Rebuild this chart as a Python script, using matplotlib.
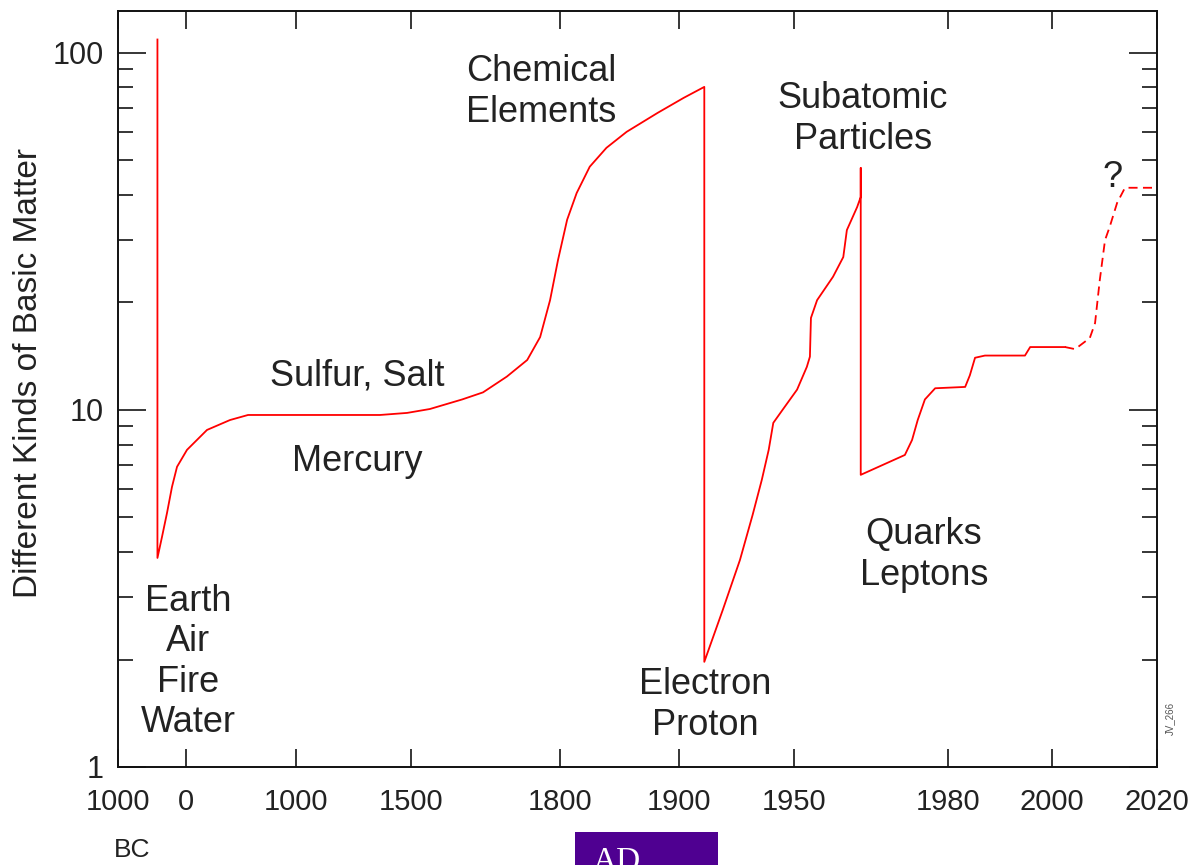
import numpy as np
import matplotlib
matplotlib.use("Agg")
import matplotlib.pyplot as plt
from matplotlib.patches import Rectangle
from matplotlib.ticker import LogLocator, NullFormatter, FixedLocator

plt.rcParams['font.family'] = ['Liberation Sans', 'DejaVu Sans']

# --- data (year, number of kinds of basic matter) ---
tick_years = [-1000, 0, 1000, 1500, 1800, 1900, 1950, 1980, 2000, 2020]
tick_labels = ["1000", "0", "1000", "1500", "1800", "1900", "1950", "1980", "2000", "2020"]

known_years = [-420, -420, -353, -279, -206, -132, 9, 191, 400, 564, 1365, 1483,
               1538, 1603, 1645, 1693, 1734, 1760, 1780, 1796, 1806, 1814, 1825,
               1839, 1856, 1882, 1902, 1911, 1911, 1919, 1926.5, 1932, 1936, 1939,
               1941, 1945, 1950.6, 1952.5, 1953.1, 1953.3, 1954.5, 1957.6, 1959.6,
               1960.3, 1962.3, 1963, 1963, 1963, 1971.6, 1973, 1974.1, 1975.5,
               1977.5, 1983.3, 1984.2, 1985.2, 1987.1, 1994.8, 1995.8, 1996.7, 2002.5]
known_kinds = [109, 3.85, 4.41, 5.15, 6.09, 6.93, 7.73, 8.79, 9.37, 9.68, 9.68, 9.81,
               10.06, 10.7, 11.2, 12.4, 13.8, 16.0, 20.3, 26.3, 34.1, 40.5, 48.0,
               54.2, 60.1, 67.9, 74.8, 80.3, 1.97, 2.75, 3.80, 5.08, 6.37, 7.73,
               9.20, 10.0, 11.4, 13.2, 14.1, 18.1, 20.3, 23.6, 26.8,
               31.9, 37.0, 39.5, 47.6, 6.58, 7.48, 8.24, 9.37, 10.7,
               11.5, 11.6, 12.5, 14.0, 14.2, 14.2, 15.0, 15.0, 15.0]

future_years = [2002.5, 2004.4, 2007.2, 2008.2, 2009.1, 2010.1, 2011.0, 2012.4, 2013.9, 2020]
future_kinds = [15.0, 14.8, 15.9, 17.5, 23.1, 29.9, 32.6, 38.0, 41.9, 41.9]

# piecewise time axis: where each tick year sits along the axis
axis_pos = np.array([118, 186, 296, 411, 560, 679, 794, 948, 1052, 1157], dtype=float)
axis_years = np.array(tick_years, dtype=float)

def fwd(x):
    return np.interp(x, axis_years, axis_pos)

def inv(p):
    return np.interp(p, axis_pos, axis_years)

fig = plt.figure(figsize=(11.9, 8.65), dpi=100)
ax = fig.add_axes([118/1190, 1 - 767/865, (1157 - 118)/1190, (767 - 11)/865])
ax.set_xscale('function', functions=(fwd, inv))
ax.set_yscale('log')

red = '#ff0000'
ax.plot(known_years, known_kinds, color=red, lw=1.3)
ax.plot(future_years, future_kinds, color=red, lw=1.3, dashes=(5, 3))

ax.set_xlim(-1000, 2020)
ax.set_ylim(1, 131)

ax.xaxis.set_major_locator(FixedLocator(tick_years))
ax.set_xticklabels(tick_labels)
ax.xaxis.set_minor_locator(FixedLocator([]))
ax.yaxis.set_major_locator(FixedLocator([1, 10, 100]))
ax.set_yticklabels(["1", "10", "100"])
ax.yaxis.set_minor_locator(LogLocator(base=10, subs=np.arange(2, 10)))
ax.yaxis.set_minor_formatter(NullFormatter())

txt = '#222222'
ax.tick_params(axis='x', which='major', direction='in', top=True, length=13,
               width=1.1, pad=15, labelsize=21, labelcolor=txt)
ax.tick_params(axis='y', which='major', direction='in', right=True, length=20,
               width=1.1, pad=10, labelsize=22, labelcolor=txt)
ax.tick_params(axis='y', which='minor', direction='in', right=True, length=11,
               width=1.1)
for s in ax.spines.values():
    s.set_linewidth(1.4)
    s.set_color('#111111')

ax.set_ylabel("Different Kinds of Basic Matter", fontsize=24, color=txt)
ax.yaxis.set_label_coords(-0.071, 0.521)

lab = dict(fontsize=26, color=txt, ha='center', va='center', multialignment='center',
           linespacing=1.2)
ax.text(1762, 77.8, "Chemical\nElements", **lab)
ax.text(1963.4, 65.3, "Subatomic\nParticles", **lab)
ax.text(1265, 12.45, "Sulfur, Salt", **lab)
ax.text(1265, 7.15, "Mercury", **lab)
ax.text(18, 1.97, "Earth\nAir\nFire\nWater", **lab)
ax.text(1911.3, 1.49, "Electron\nProton", **lab)
ax.text(1975.3, 3.92, "Quarks\nLeptons", **lab)
ax.text(2011.6, 44.7, "?", **lab)

fig.text(1170/1190, 1 - 718/865, "JV_266", rotation=90, fontsize=7, color='#555555',
         ha='center', va='center')
fig.text(132/1190, 1 - 850/865, "BC", fontsize=19, color=txt, ha='center', va='center')

fig.patches.append(Rectangle((575/1190, 0), 143/1190, 33/865, transform=fig.transFigure,
                             facecolor='#4f0091', edgecolor='none'))
# the reference shows this label clipped by the bottom edge of the image
fig.text(617/1190, 1 - 847/865, "AD", fontsize=24, color='white', ha='center', va='top',
         family=['Liberation Serif', 'DejaVu Serif'])

fig.savefig("out.png", dpi=100)
